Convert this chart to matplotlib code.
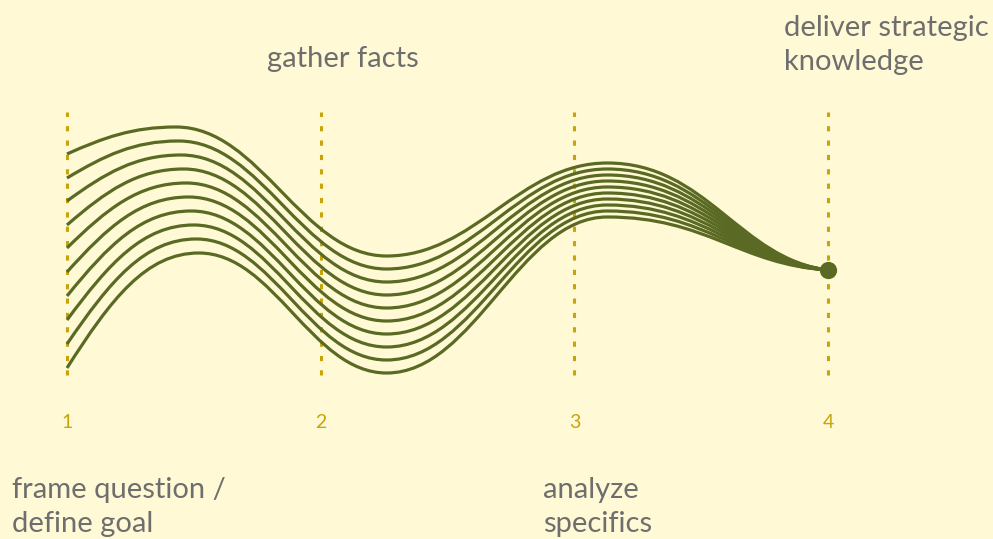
import matplotlib
matplotlib.use("Agg")
import matplotlib.pyplot as plt
from matplotlib.path import Path
from matplotlib.patches import PathPatch

# stages along the process
stages = [1, 2, 3, 4]
stage_labels = [["frame question /", "define goal"],
                ["gather facts"],
                ["analyze", "specifics"],
                ["deliver strategic", "knowledge"]]

# ten strands (top strand first)
# level at stage 1, first crest, trough, second crest; all meet at stage 4
start_y = [116, 92, 69, 45, 22, -2, -26, -50, -74, -98]
crest1_x = [1.43, 1.44, 1.45, 1.46, 1.47, 1.48, 1.49, 1.50, 1.51, 1.52]
crest1_y = [143, 129, 115, 101, 87, 73, 59, 45, 31, 17]
trough_x = [2.26] * 10
trough_y = [14, 1, -12, -25, -38, -51, -64, -77, -90, -103]
crest2_x = [3.13] * 10
crest2_y = [107, 101, 95, 89, 83, 77, 71, 65, 59, 53]
end_x, end_y = 4, 0

BG = "#FFFAD5"
LINE = "#5A6A24"
GOLD = "#C9A30A"
GREY = "#6E6E6E"
FONT = ["Lato", "DejaVu Sans"]

fig = plt.figure(figsize=(9.93, 5.39), dpi=100, facecolor=BG)
ax = fig.add_axes([0, 0, 1, 1])
ax.set_facecolor(BG)
ax.set_xlim(0.7359, 4.6505)
ax.set_ylim(-269, 270)
ax.axis("off")

# dashed stage markers
for s in stages:
    ax.plot([s, s], [-105, 158], color=GOLD, lw=2.2,
            dashes=(1.7, 3.0), zorder=1)
    ax.text(s, -153, str(s), color=GOLD, fontsize=14, family=FONT,
            ha="center", va="center")


def smooth_path(pts, k=0.4):
    # cubic segments, flat at every crest / trough
    (x0, y0), (x1, y1) = pts[0], pts[1]
    dx = x1 - x0
    verts = [(x0, y0), (x0 + dx / 3, y0 + 0.6 * (y1 - y0)),
             (x1 - k * dx, y1), (x1, y1)]
    for (xa, ya), (xb, yb) in zip(pts[1:-2], pts[2:-1]):
        dx = xb - xa
        verts += [(xa + k * dx, ya), (xb - k * dx, yb), (xb, yb)]
    (xa, ya), (xb, yb) = pts[-2], pts[-1]
    dx = xb - xa
    verts += [(xa + 0.45 * dx, ya), (xb - 0.4 * dx, yb + 0.1 * (ya - yb)),
              (xb, yb)]
    codes = [Path.MOVETO] + [Path.CURVE4] * (len(verts) - 1)
    return Path(verts, codes)


for i in range(len(start_y)):
    pts = [(stages[0], start_y[i]), (crest1_x[i], crest1_y[i]),
           (trough_x[i], trough_y[i]), (crest2_x[i], crest2_y[i]),
           (end_x, end_y)]
    ax.add_patch(PathPatch(smooth_path(pts), fill=False, edgecolor=LINE,
                           lw=2.3, zorder=2))

ax.scatter([end_x], [end_y], s=130, color=LINE, zorder=3)

# stage descriptions
label_pos = [(0.783, -228), (1.79, 203), (2.877, -228), (3.826, 234)]
for (lx, ly), lines in zip(label_pos, stage_labels):
    for j, line in enumerate(lines):
        ax.text(lx, ly - j * 34, line, color=GREY, fontsize=21,
                family=FONT, ha="left", va="baseline")

fig.savefig("out.png", dpi=100, facecolor=BG)
